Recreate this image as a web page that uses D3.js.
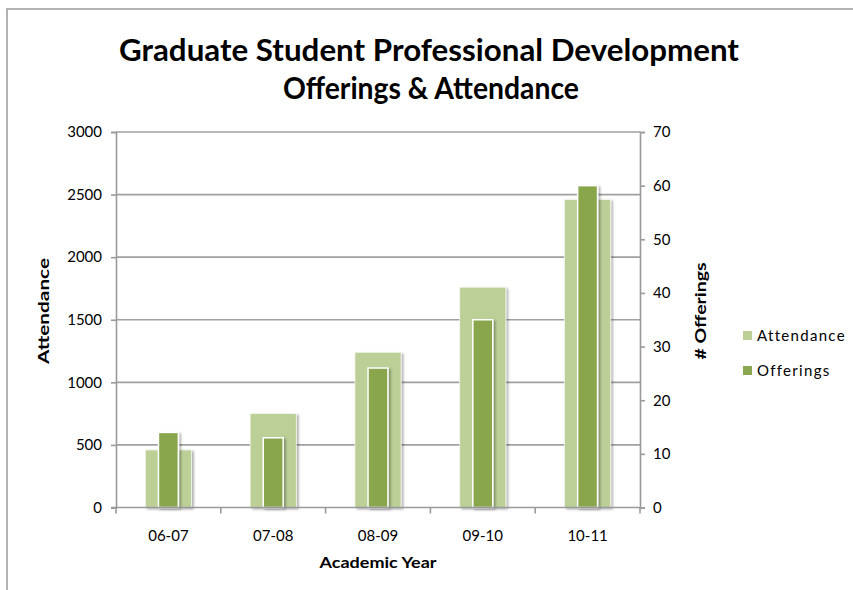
<!DOCTYPE html>
<html>
<head>
<meta charset="utf-8">
<script src="https://cdn.jsdelivr.net/npm/d3@7"></script>
<style>
  html, body { margin: 0; padding: 0; background: #fff; }
  svg { display: block; }
  text { font-family: Lato, "Open Sans", sans-serif; fill: #000; }
</style>
</head>
<body>
<svg id="chart" width="853" height="590"></svg>
<script>
// Academic years and the two series
const years = ["06-07", "07-08", "08-09", "09-10", "10-11"];
const attendance = [460, 750, 1240, 1760, 2460];
const offerings = [14, 13, 26, 35, 60];
const leftTicks = [0, 500, 1000, 1500, 2000, 2500, 3000];
const rightTicks = [0, 10, 20, 30, 40, 50, 60, 70];
const seriesNames = ["Attendance", "Offerings"];
const colors = { Attendance: "#BBCF97", Offerings: "#8AA64E" };

const svg = d3.select("#chart");

// Drop shadow used by the columns
const defs = svg.append("defs");
const f = defs.append("filter").attr("id", "shadow")
  .attr("x", "-30%").attr("y", "-10%").attr("width", "160%").attr("height", "130%");
f.append("feDropShadow").attr("dx", 2).attr("dy", 1.5)
  .attr("stdDeviation", 1.3).attr("flood-color", "#000").attr("flood-opacity", 0.3);

// Chart frame
svg.append("path")
  .attr("d", "M7,590 V9 H853")
  .attr("fill", "none").attr("stroke", "#9a9a9a").attr("stroke-width", 1.5);

const plot = { left: 116, right: 640, top: 132, bottom: 507.5 };

const x = d3.scaleBand().domain(years).range([plot.left, plot.right]);
const yL = d3.scaleLinear().domain([0, 3000]).range([plot.bottom, plot.top]);
const yR = d3.scaleLinear().domain([0, 70]).range([plot.bottom, plot.top]);

// Horizontal gridlines on the attendance scale
svg.append("g")
  .selectAll("line").data(leftTicks.filter(d => d > 0)).join("line")
  .attr("x1", plot.left).attr("x2", plot.right)
  .attr("y1", d => yL(d)).attr("y2", d => yL(d))
  .attr("stroke", "#a0a0a0").attr("stroke-width", 1.6);

// Columns
const attW = x.bandwidth() * 0.44;
const offW = x.bandwidth() * 0.19;

svg.append("g").selectAll("rect").data(years).join("rect")
  .attr("x", d => x(d) + (x.bandwidth() - attW) / 2)
  .attr("y", (d, i) => yL(attendance[i]))
  .attr("width", attW)
  .attr("height", (d, i) => plot.bottom - yL(attendance[i]))
  .attr("fill", colors.Attendance)
  .attr("stroke", "#f4f7ee").attr("stroke-width", 0.8)
  .attr("filter", "url(#shadow)");

svg.append("g").selectAll("rect").data(years).join("rect")
  .attr("x", d => x(d) + (x.bandwidth() - offW) / 2)
  .attr("y", (d, i) => yR(offerings[i]))
  .attr("width", offW)
  .attr("height", (d, i) => plot.bottom - yR(offerings[i]))
  .attr("fill", colors.Offerings)
  .attr("stroke", "#ffffff").attr("stroke-width", 1.5)
  .attr("filter", "url(#shadow)");

// Axes
function styleAxis(g) {
  g.select(".domain").attr("stroke", "#9a9a9a").attr("stroke-width", 1.6);
  g.selectAll(".tick line").attr("stroke", "#9a9a9a").attr("stroke-width", 1.6);
  g.selectAll(".tick text").attr("font-size", 15).attr("fill", "#000")
    .style("font-family", "Lato, 'Open Sans', sans-serif");
}

svg.append("g")
  .attr("transform", `translate(${plot.left},0)`)
  .call(d3.axisLeft(yL).tickValues(leftTicks).tickFormat(d3.format("d"))
    .tickSizeOuter(0).tickSize(5).tickPadding(9))
  .call(styleAxis);

svg.append("g")
  .attr("transform", `translate(${plot.right},0)`)
  .call(d3.axisRight(yR).tickValues(rightTicks).tickFormat(d3.format("d"))
    .tickSizeOuter(0).tickSize(5).tickPadding(8))
  .call(styleAxis);

// Category axis with ticks between groups
const xAxis = svg.append("g").attr("transform", `translate(0,${plot.bottom})`);
xAxis.append("line").attr("x1", plot.left - 5).attr("x2", plot.right)
  .attr("stroke", "#9a9a9a").attr("stroke-width", 1.6);
xAxis.selectAll("line.sep").data(d3.range(years.length + 1)).join("line")
  .attr("class", "sep")
  .attr("x1", i => plot.left + i * x.step()).attr("x2", i => plot.left + i * x.step())
  .attr("y1", 0).attr("y2", 6)
  .attr("stroke", "#9a9a9a").attr("stroke-width", 1.6);
xAxis.selectAll("text").data(years).join("text")
  .attr("x", d => x(d) + x.bandwidth() / 2)
  .attr("y", 33)
  .attr("text-anchor", "middle").attr("font-size", 15)
  .text(d => d);

// Titles
svg.append("text").attr("x", 429).attr("y", 61).attr("text-anchor", "middle")
  .attr("font-size", 31).attr("font-weight", "bold")
  .attr("textLength", 620).attr("lengthAdjust", "spacingAndGlyphs")
  .text("Graduate Student Professional Development");
svg.append("text").attr("x", 431).attr("y", 99).attr("text-anchor", "middle")
  .attr("font-size", 31).attr("font-weight", "bold")
  .attr("textLength", 296).attr("lengthAdjust", "spacingAndGlyphs")
  .text("Offerings & Attendance");

svg.append("text").attr("x", 378).attr("y", 568).attr("text-anchor", "middle")
  .attr("font-size", 16).attr("font-weight", "bold")
  .attr("textLength", 117).attr("lengthAdjust", "spacingAndGlyphs")
  .text("Academic Year");

svg.append("text").attr("transform", "translate(49,311) rotate(-90)")
  .attr("text-anchor", "middle").attr("font-size", 16).attr("font-weight", "bold")
  .attr("textLength", 106).attr("lengthAdjust", "spacingAndGlyphs")
  .text("Attendance");

svg.append("text").attr("transform", "translate(706,311) rotate(-90)")
  .attr("text-anchor", "middle").attr("font-size", 16).attr("font-weight", "bold")
  .attr("textLength", 97).attr("lengthAdjust", "spacingAndGlyphs")
  .text("# Offerings");

// Legend
const legend = svg.append("g").attr("transform", "translate(743,336)");
legend.selectAll("g").data(seriesNames).join("g")
  .attr("transform", (d, i) => `translate(0,${i * 35})`)
  .each(function (d) {
    const g = d3.select(this);
    g.append("rect").attr("x", 0).attr("y", -5).attr("width", 9).attr("height", 9)
      .attr("fill", colors[d]);
    g.append("text").attr("x", 14).attr("y", 5).attr("font-size", 15)
      .attr("letter-spacing", 1.3).text(d);
  });
</script>
</body>
</html>
